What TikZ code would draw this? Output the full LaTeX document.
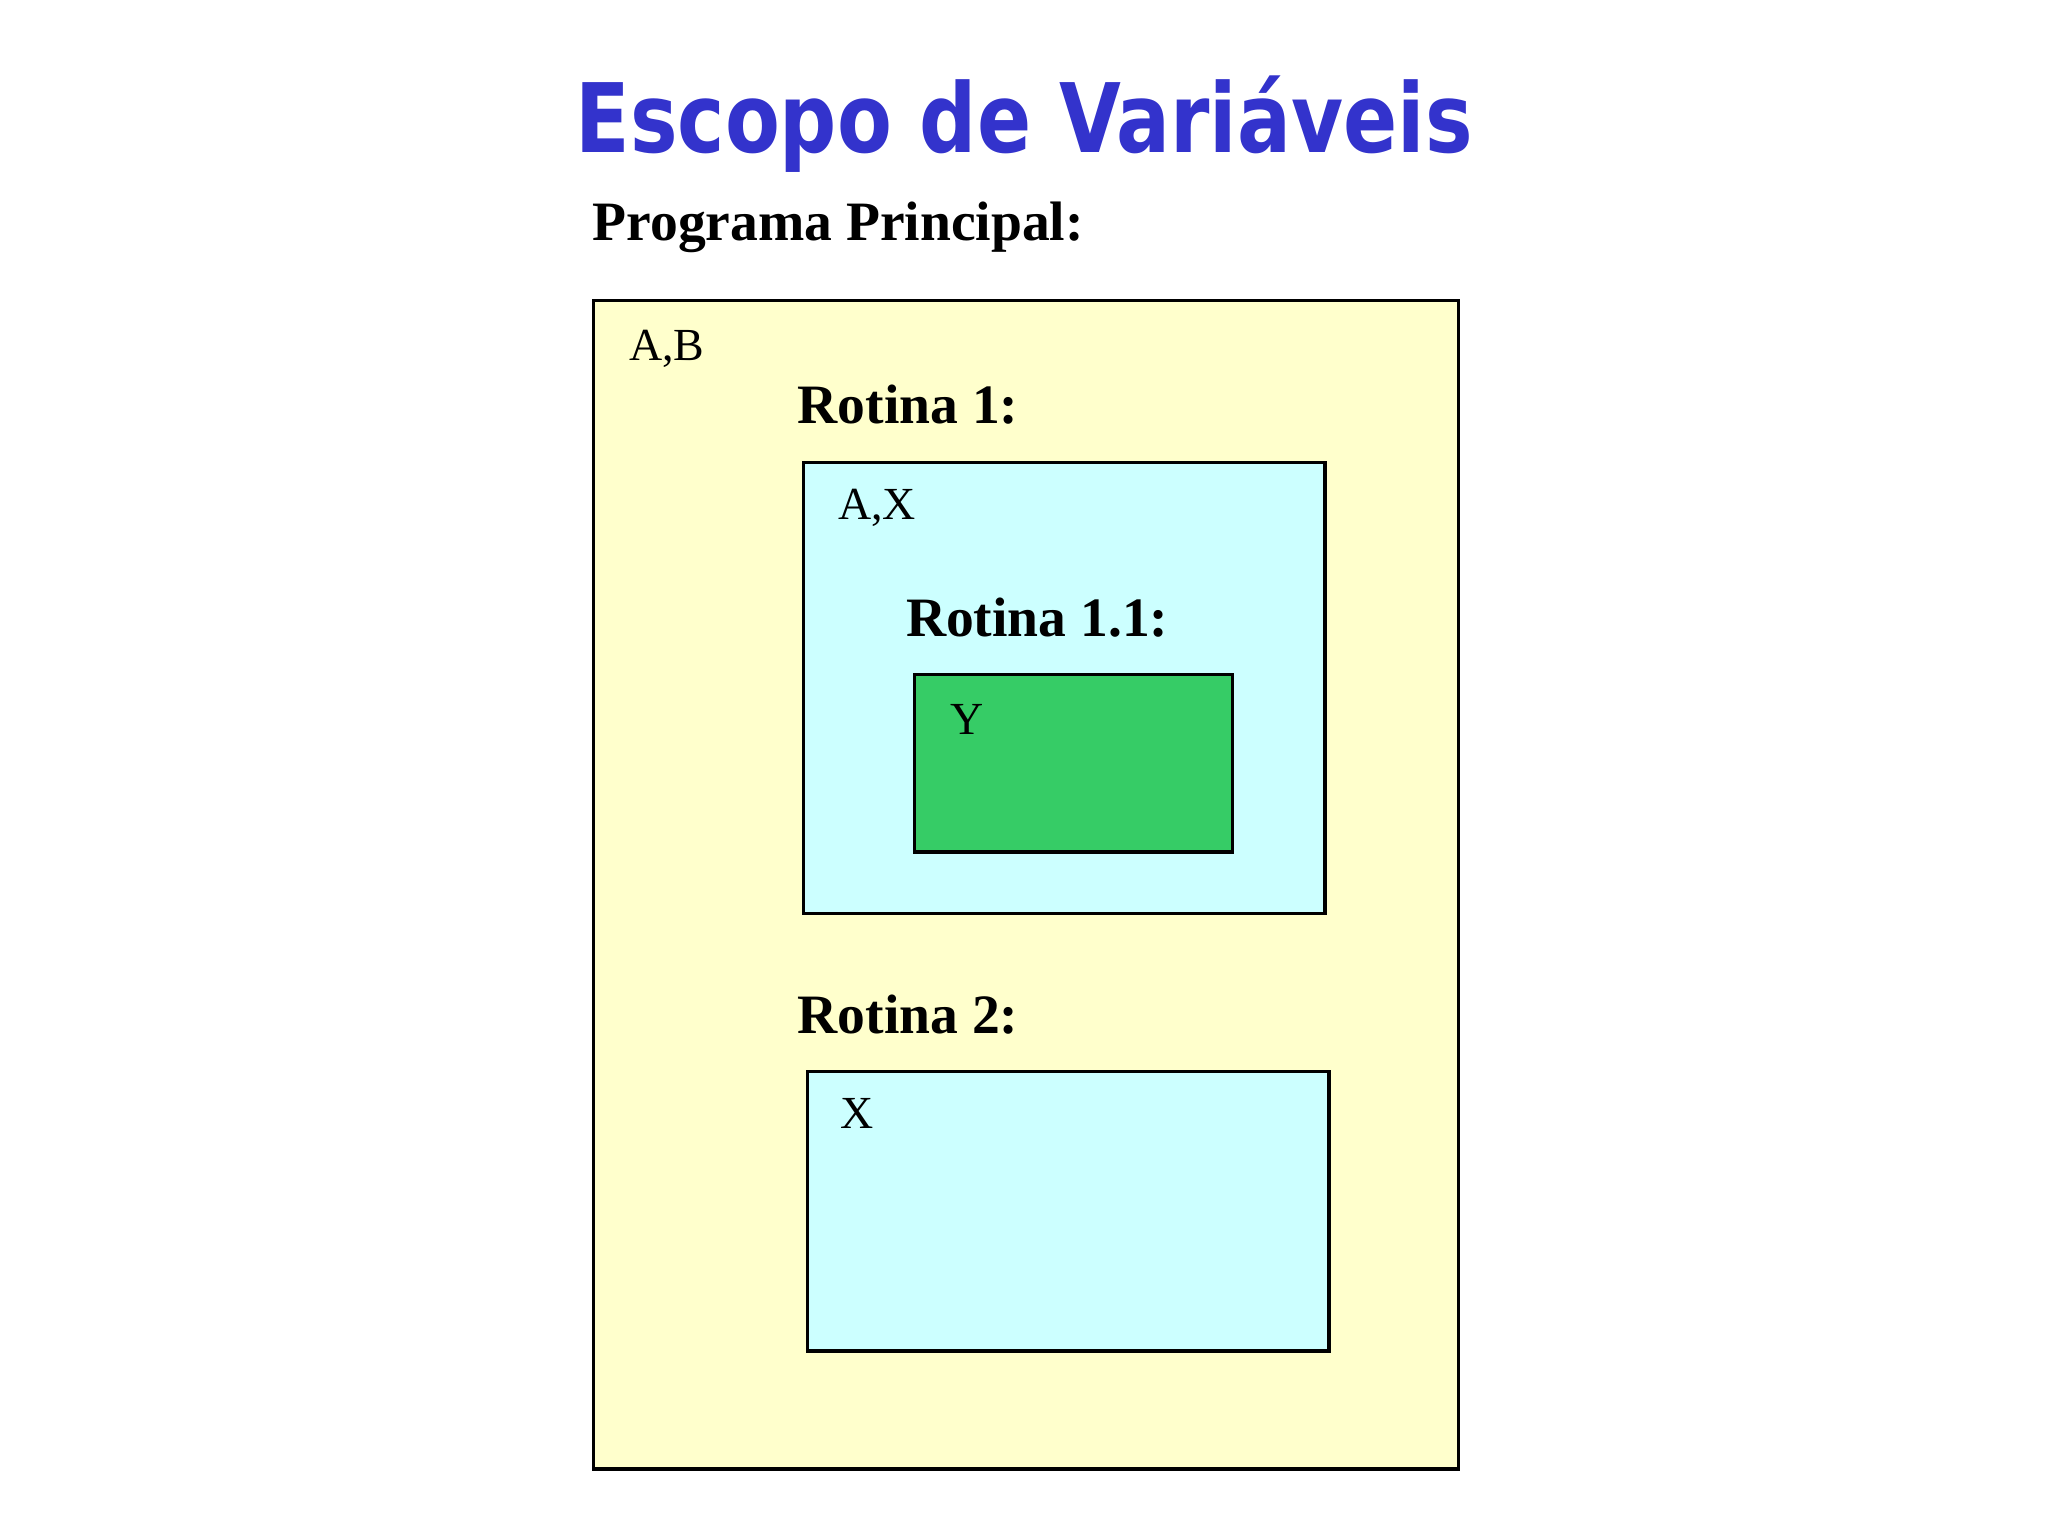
\documentclass[tikz,border=0pt]{standalone}
\usepackage{fontspec}
\setmainfont{Liberation Serif}
\newfontfamily\titlefont{DejaVu Sans}
\usetikzlibrary{positioning}

\definecolor{titleblue}{HTML}{3333CC}
\definecolor{mainyellow}{HTML}{FFFFCC}
\definecolor{rotcyan}{HTML}{CCFFFF}
\definecolor{rotgreen}{HTML}{36CC66}

\begin{document}
\begin{tikzpicture}[x=0.01cm, y=-0.01cm,
    scopebox/.style={draw=black, line width=0.7pt, rectangle, anchor=north west, inner sep=0pt},
    heading/.style={anchor=base west, inner sep=0pt, font=\fontsize{12.1}{14}\selectfont\bfseries},
    varname/.style={anchor=base west, inner sep=0pt, font=\fontsize{10}{12}\selectfont}]
  \useasboundingbox[fill=white] (0,0) rectangle (1568,1176);

  % title
  \node (title) [anchor=base, inner sep=0pt, text=titleblue,
    font=\titlefont\bfseries\fontsize{17.4}{20}\selectfont] at (784,117)
    {\scalebox{1}[1.2]{Escopo de Variáveis}};

  % scopes
  \node (main) [scopebox, fill=mainyellow, minimum width=6.62cm, minimum height=8.94cm] at (453,229) {};
  \node (rot1) [scopebox, fill=rotcyan, minimum width=3.99cm, minimum height=3.45cm] at (614,353) {};
  \node (rot11) [scopebox, fill=rotgreen, minimum width=2.43cm, minimum height=1.36cm] at (699,515) {};
  \node (rot2) [scopebox, fill=rotcyan, minimum width=3.99cm, minimum height=2.14cm] at (617,819) {};

  % labels
  \node (progname) [heading] at (453,184) {Programa Principal:};
  \node (varsmain) [varname] at (481,276) {A,B};
  \node (rot1name) [heading] at (610,324) {Rotina 1:};
  \node (varsrot1) [varname] at (641,398) {A,X};
  \node (rot11name) [heading] at (693,487) {Rotina 1.1:};
  \node (varsrot11) [varname] at (727,562) {Y};
  \node (rot2name) [heading] at (610,791) {Rotina 2:};
  \node (varsrot2) [varname] at (643,864) {X};
\end{tikzpicture}
\end{document}
